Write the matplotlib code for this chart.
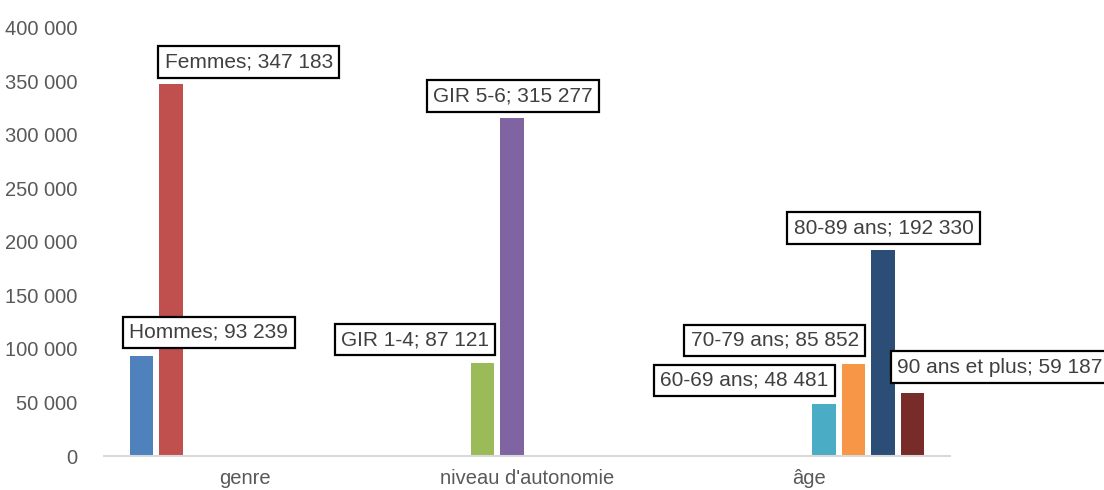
import matplotlib
matplotlib.use("Agg")
import matplotlib.pyplot as plt
import numpy as np

# ---- data ----
categories = ["genre", "niveau d'autonomie", "âge"]
series_names = ["Hommes", "Femmes", "GIR 1-4", "GIR 5-6",
                "60-69 ans", "70-79 ans", "80-89 ans", "90 ans et plus"]
series_category = [0, 0, 1, 1, 2, 2, 2, 2]
series_values = [93239, 347183, 87121, 315277, 48481, 85852, 192330, 59187]
y_ticks = [0, 50000, 100000, 150000, 200000, 250000, 300000, 350000, 400000]

# ---- style ----
colors = ["#4F81BD", "#C0504D", "#9BBB59", "#8064A2",
          "#4BACC6", "#F79646", "#2C4D75", "#772C2A"]
# label box anchors (data coords) and horizontal alignment
label_xy = [(-0.128, 115300), (0.013, 367800), (0.603, 108750), (0.949, 336060),
            (1.771, 70480), (1.878, 107820), (2.264, 212840), (2.312, 83080)]
label_ha = ["center"] * 7 + ["left"]

plt.rcParams['font.family'] = ['Liberation Sans', 'DejaVu Sans']

fig = plt.figure(figsize=(11.04, 4.90), dpi=100)
ax = fig.add_axes([104/1104, 34/490, 846/1104, 428.5/490])

n = len(series_names)
slot = 0.105
width = 0.083
for i, (name, cat, val, col) in enumerate(zip(series_names, series_category, series_values, colors)):
    x = cat + (i - (n - 1) / 2) * slot
    ax.bar(x, val, width=width, color=col, zorder=2)
    lx, ly = label_xy[i]
    txt = f"{name}; {val:,}".replace(",", " ")
    ax.text(lx, ly, txt, ha=label_ha[i], va="center", fontsize=15, color="#404040",
            bbox=dict(boxstyle="square,pad=0.3", fc="white", ec="black", lw=1.6),
            clip_on=False, zorder=3)

ax.set_xlim(-0.5, 2.5)
ax.set_ylim(0, 400000)
ax.set_xticks(range(len(categories)))
ax.set_xticklabels(categories)
ax.set_yticks(y_ticks)
ax.set_yticklabels([f"{v:,}".replace(",", " ") for v in y_ticks])
ax.tick_params(axis="both", length=0, labelsize=14.5, colors="#595959")
ax.tick_params(axis="y", pad=19)
ax.tick_params(axis="x", pad=9)
for s in ["top", "right", "left"]:
    ax.spines[s].set_visible(False)
ax.spines["bottom"].set_color("#D9D9D9")
ax.spines["bottom"].set_linewidth(1.5)

fig.savefig("out.png", dpi=100)
